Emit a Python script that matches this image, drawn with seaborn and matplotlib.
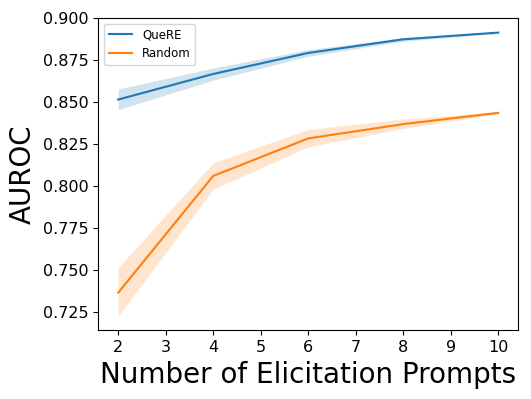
import matplotlib
matplotlib.use("Agg")
import matplotlib.pyplot as plt
import seaborn as sns
import pandas as pd
import numpy as np

prompts = [2, 4, 6, 8, 10]
quere_mean = [0.8515, 0.8667, 0.8792, 0.8873, 0.8913]
quere_low = [0.8455, 0.8630, 0.8772, 0.8862, 0.8908]
quere_high = [0.8578, 0.8703, 0.8812, 0.8884, 0.8918]
random_mean = [0.7367, 0.8061, 0.8284, 0.8369, 0.8436]
random_low = [0.7228, 0.7982, 0.8234, 0.8343, 0.8430]
random_high = [0.7516, 0.8139, 0.8337, 0.8400, 0.8442]

df = pd.DataFrame({
    "x": prompts * 2,
    "y": quere_mean + random_mean,
    "method": ["QueRE"] * 5 + ["Random"] * 5,
})

fig, ax = plt.subplots(figsize=(5.31, 3.99), dpi=100)
colors = {"QueRE": "#1f77b4", "Random": "#ff7f0e"}
sns.lineplot(data=df, x="x", y="y", hue="method", palette=colors, ax=ax, linewidth=1.5)
ax.fill_between(prompts, quere_low, quere_high, color="#1f77b4", alpha=0.2, linewidth=0)
ax.fill_between(prompts, random_low, random_high, color="#ff7f0e", alpha=0.2, linewidth=0)

ax.set_xlim(1.58, 10.42)
ax.set_ylim(0.7143, 0.900)
ax.set_xticks(range(2, 11))
ax.set_yticks(np.arange(0.725, 0.9001, 0.025))
ax.tick_params(labelsize=11.5)
ax.set_xlabel("Number of Elicitation Prompts", fontsize=20)
ax.set_ylabel("AUROC", fontsize=20)
leg = ax.legend(loc="upper left", fontsize=8.5)
leg.set_title(None)
fig.subplots_adjust(left=0.185, right=0.976, top=0.955, bottom=0.172)
fig.savefig("out.png", dpi=100)
